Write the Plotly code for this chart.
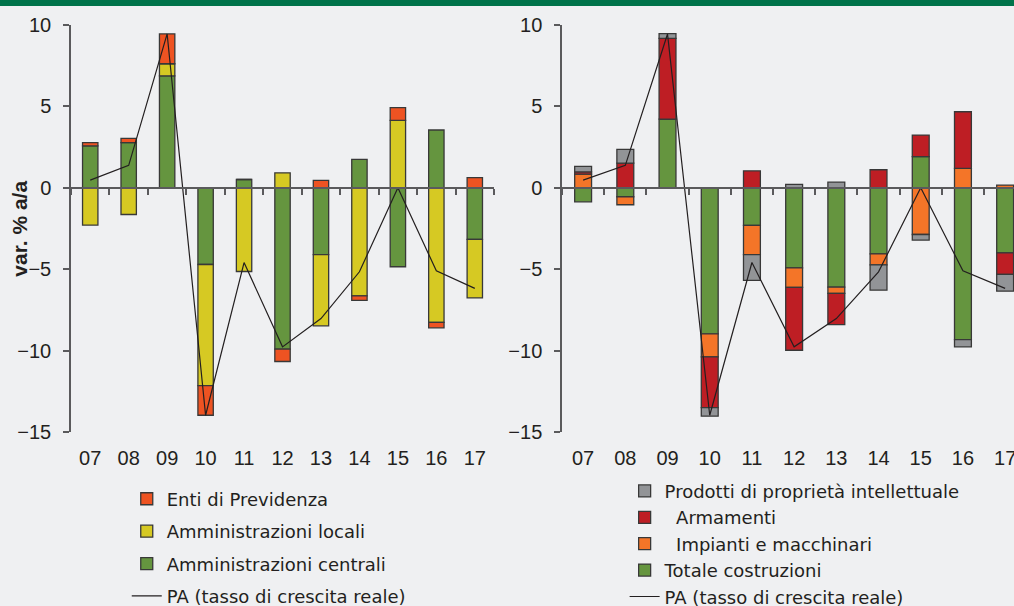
import plotly.graph_objects as go

# Years on the x axis
years = ["07", "08", "09", "10", "11", "12", "13", "14", "15", "16", "17"]

# Left panel: contributions by sub-sector
centrali = [2.58, 2.77, 6.88, -4.71, 0.51, -9.91, -4.10, 1.74, -4.85, 3.55, -3.17]
locali = [-2.29, -1.64, 0.74, -7.44, -5.14, 0.92, -4.38, -6.64, 4.14, -8.27, -3.59]
previdenza = [0.19, 0.27, 1.83, -1.82, 0.0, -0.76, 0.45, -0.28, 0.78, -0.33, 0.62]

# Right panel: contributions by asset type
costruzioni = [-0.86, -0.55, 4.22, -8.97, -2.31, -4.92, -6.10, -4.06, 1.91, -9.32, -4.00]
impianti = [0.84, -0.49, 0.0, -1.42, -1.79, -1.20, -0.39, -0.67, -2.87, 1.19, 0.17]
armamenti = [0.14, 1.52, 4.96, -3.11, 1.04, -3.86, -1.91, 1.11, 1.33, 3.48, -1.32]
proprieta = [0.33, 0.84, 0.29, -0.53, -1.59, 0.21, 0.35, -1.56, -0.34, -0.45, -1.03]

# PA total real growth rate
pa_growth = [0.47, 1.38, 9.45, -13.97, -4.59, -9.77, -8.03, -5.16, 0.0, -5.10, -6.18]

ytick_vals = [-15, -10, -5, 0, 5, 10]

FONT = "Liberation Sans"
LEG_FONT = "DejaVu Sans"
AXIS_COL = "#5a5a5c"
EDGE = "#383838"
BG = "#eff0f2"

xs = list(range(len(years)))

fig = go.Figure()


def add_bar(name, vals, color, xa, ya, legend, rank):
    fig.add_trace(go.Bar(
        x=xs, y=vals, name=name, xaxis=xa, yaxis=ya,
        width=0.4,
        marker=dict(color=color, line=dict(color=EDGE, width=1.3)),
        legend=legend, legendrank=rank, legendgroup=legend + name,
        hoverinfo="y+name",
    ))


# left panel (stack order: centrali, locali, previdenza)
add_bar("Amministrazioni centrali", centrali, "#65953f", "x", "y", "legend", 3)
add_bar("Amministrazioni locali", locali, "#d6c923", "x", "y", "legend", 2)
add_bar("Enti di Previdenza", previdenza, "#ee5322", "x", "y", "legend", 1)
fig.add_trace(go.Scatter(
    x=xs, y=pa_growth, name="PA (tasso di crescita reale)", mode="lines",
    xaxis="x3", yaxis="y", line=dict(color="#231f20", width=1.2),
    legend="legend", legendrank=4, legendgroup="legendPA",
))

# right panel (stack order: costruzioni, impianti, armamenti, proprieta)
add_bar("Totale costruzioni", costruzioni, "#65953f", "x2", "y2", "legend2", 4)
add_bar("\u00a0\u00a0Impianti e macchinari", impianti, "#f47528", "x2", "y2", "legend2", 3)
add_bar("\u00a0\u00a0Armamenti", armamenti, "#be1e24", "x2", "y2", "legend2", 2)
add_bar("Prodotti di proprietà intellettuale", proprieta, "#929497", "x2", "y2", "legend2", 1)
fig.add_trace(go.Scatter(
    x=xs, y=pa_growth, name="PA (tasso di crescita reale)", mode="lines",
    xaxis="x4", yaxis="y2", line=dict(color="#231f20", width=1.2),
    legend="legend2", legendrank=5,
))

left_dom = [0, 0.4486]
right_dom = [0.5207, 1]
left_rng = [-0.5, 10.5]
right_rng = [-0.5, 10.21]

tick_font = dict(family=FONT, size=20, color="#231f20")

cat_axis = dict(
    tickmode="array", tickvals=xs, ticktext=years,
    showline=False, ticks="", showgrid=False, zeroline=False,
    tickfont=tick_font, ticklabelstandoff=12, automargin=False,
    ticklabeloverflow="allow",
)
zero_axis = dict(
    anchor="free", position=0.6, showline=True, linecolor=AXIS_COL, linewidth=1.5,
    ticks="outside", ticklen=6, tickcolor=AXIS_COL, tickwidth=1.5,
    tickmode="array", tickvals=[i - 0.5 for i in range(len(years) + 1)],
    showticklabels=False, showgrid=False, zeroline=False, automargin=False,
)
val_axis = dict(
    range=[-15, 10], tickmode="array", tickvals=ytick_vals,
    showline=True, linecolor=AXIS_COL, linewidth=1.5,
    ticks="outside", ticklen=6, tickcolor=AXIS_COL, tickwidth=1.5,
    showgrid=False, zeroline=False, tickfont=tick_font,
    ticklabelstandoff=8, domain=[0, 1], automargin=False,
)

legend_font = dict(family=LEG_FONT, size=18, color="#231f20")

fig.update_layout(
    width=1014, height=606,
    margin=dict(l=71, r=0, t=25, b=174, autoexpand=False),
    paper_bgcolor=BG, plot_bgcolor=BG,
    barmode="relative",
    font=dict(family=FONT, color="#231f20"),
    xaxis=dict(domain=left_dom, range=left_rng, anchor="y", **cat_axis),
    xaxis2=dict(domain=right_dom, range=right_rng, anchor="y2", **cat_axis),
    xaxis3=dict(domain=left_dom, range=left_rng, overlaying="x", **zero_axis),
    xaxis4=dict(domain=right_dom, range=right_rng, overlaying="x2", **zero_axis),
    yaxis=dict(anchor="x", **val_axis),
    yaxis2=dict(anchor="x2", **val_axis),
    legend=dict(
        xref="container", yref="container",
        x=0.125, y=0.207, xanchor="left", yanchor="top",
        bgcolor="rgba(0,0,0,0)", font=legend_font,
        traceorder="grouped", tracegroupgap=6,
    ),
    legend2=dict(
        xref="container", yref="container",
        x=0.616, y=0.22, xanchor="left", yanchor="top",
        bgcolor="rgba(0,0,0,0)", font=legend_font,
        traceorder="normal",
    ),
    annotations=[dict(
        text="<b>var. % a/a</b>", textangle=-90,
        xref="paper", yref="paper", x=-0.055, y=0.5,
        xanchor="center", yanchor="middle",
        showarrow=False, font=dict(family=FONT, size=21, color="#231f20"),
    )],
    shapes=[dict(
        type="rect", xref="paper", yref="paper",
        x0=-0.1, x1=1.1, y0=1.0467, y1=1.08,
        fillcolor="#00734a", line=dict(width=0), layer="above",
    )],
)

fig.write_html(
    "out.html",
    config={"displayModeBar": False},
    post_script="document.body.style.margin='0';",
)
